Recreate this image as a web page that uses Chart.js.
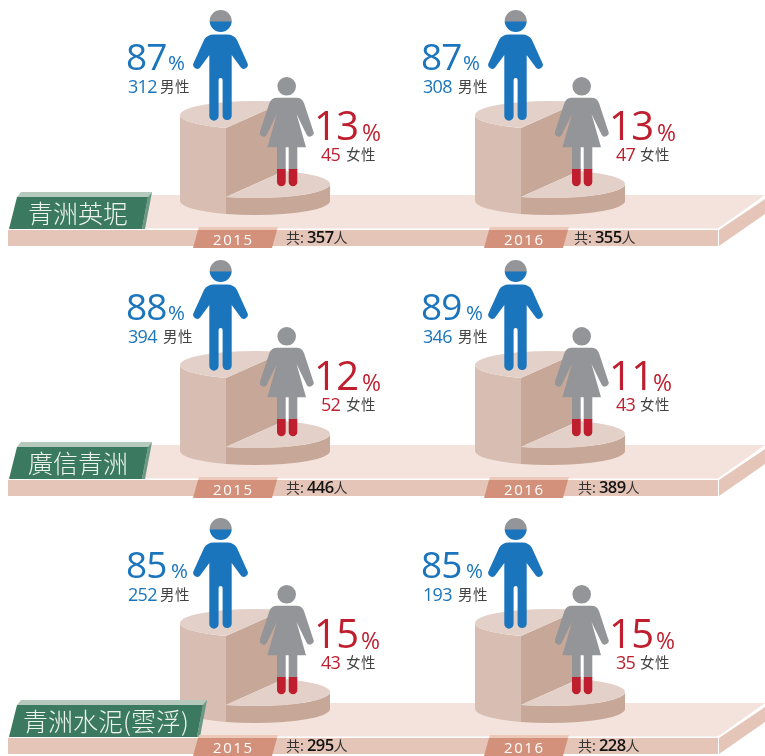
<!DOCTYPE html>
<html lang="zh-Hant">
<head>
<meta charset="utf-8">
<title>青洲 男女員工</title>
<script src="https://cdn.jsdelivr.net/npm/chart.js@4"></script>
<style>
    html,body{margin:0;padding:0;background:#fff}
    #page{position:relative;width:765px;height:756px;overflow:hidden;font-family:"Open Sans","Noto Sans CJK TC",sans-serif}
    #page canvas,#page svg{position:absolute;left:0;top:0}
    .t{position:absolute;white-space:nowrap;line-height:1}
    .big{font-size:37px;letter-spacing:-1px}
    .bigf{font-size:40px;letter-spacing:-.5px}
    .pct{font-size:20.5px}
    .pctf{font-size:23px}
    .num{font-size:18px;letter-spacing:-.7px}
    .word{font-size:14.5px;color:#444;font-family:"Noto Sans CJK TC",sans-serif;letter-spacing:.5px}
    .blue{color:#1b75bc}
    .red{color:#be1e2d}
    .year{font-size:15px;color:#fff;letter-spacing:1.6px}
    .total{font-size:14px;color:#333;font-family:"Noto Sans CJK TC",sans-serif}
    .total b{font-family:"Open Sans",sans-serif;font-size:16.5px;font-weight:600;color:#111;letter-spacing:-.6px}
    .name{font-size:25px;color:#eef4ef;font-family:"Noto Sans CJK TC",sans-serif;font-weight:300}
</style>
</head>
<body>
<div id="page"></div>
<script>
// data, order is left then right, row by row
const companies = ['青洲英坭', '廣信青洲', '青洲水泥(雲浮)']
const years = ['2015', '2016']
const malePct = [87, 87, 88, 89, 85, 85]
const femalePct = [13, 13, 12, 11, 15, 15]
const maleCount = [312, 308, 394, 346, 252, 193]
const femaleCount = [45, 47, 52, 43, 43, 35]
const totals = [357, 355, 446, 389, 295, 228]

// what the picture actually draws: same cut and same icon fill in every panel
const pieDrawn = [50, 50]
const manDrawn = [89.4, 10.6]
const womanDrawn = [16, 84]

// layout
const rowTop = [0, 250, 508]
const colLeft = [0, 295]
const malePctX = [168, 463, 168, 466, 171, 466]
const femalePctX = [362, 657, 362, 653, 361, 656]
const maleWordX = [160, 458, 163, 458, 160, 458]
const totalX = [286, 574, 286, 578, 286, 578]

const page = document.getElementById('page')

const manPath = new Path2D('M16.7 11a11 11 0 1 0 22 0a11 11 0 1 0 -22 0Z M21 24.5H34Q41 24.5 44 30L54.4 53A4 4 0 0 1 47.5 57L38.7 45V106A4.6 4.6 0 0 1 29.6 106V70A2 2 0 0 0 25.6 70V106A4.6 4.6 0 0 1 16.3 106V45L7.5 57A4 4 0 0 1 .6 53L11 30Q14 24.5 21 24.5Z')
const womanPath = new Path2D('M17.4 9.3a9.3 9.3 0 1 0 18.6 0a9.3 9.3 0 1 0 -18.6 0Z M17 20.7H36.4Q42 20.7 44 26L53.2 54A3.7 3.7 0 0 1 46.5 57.5L36.5 37L46 70.3H37.3V105A4.3 4.3 0 0 1 28.7 105V70.3H25.7V105A4.3 4.3 0 0 1 17 105V70.3H7.4L16.9 37L6.9 57.5A3.7 3.7 0 0 1 .2 54L9.4 26Q11.4 20.7 17 20.7Z')

function addCanvas(x, y, w, h) {
    const c = document.createElement('canvas')
    c.width = w
    c.height = h
    c.style.left = x + 'px'
    c.style.top = y + 'px'
    c.style.width = w + 'px'
    c.style.height = h + 'px'
    page.appendChild(c)
    return c
}

function text(x, y, str, cls, boldPart) {
    const d = document.createElement('div')
    d.className = 't ' + cls
    d.style.left = x + 'px'
    d.style.top = y + 'px'
    if (boldPart) {
        d.append(str[0])
        const b = document.createElement('b')
        b.textContent = boldPart
        d.append(b, str[1])
    } else {
        d.textContent = str
    }
    page.appendChild(d)
}

function addSvg(shapes) {
    const s = document.createElementNS('http://www.w3.org/2000/svg', 'svg')
    s.setAttribute('width', 765)
    s.setAttribute('height', 756)
    s.innerHTML = shapes
    page.appendChild(s)
}

function poly(points, fill, dy) {
    const p = points.map(a => a[0] + ',' + (a[1] + dy)).join(' ')
    return `<polygon points="${p}" fill="${fill}"/>`
}

// ---------------- stepped pie ----------------
const RY = 14
const pieTopBig = 115, pieTopSmall = 184, pieBase = 201
const canvasTop = 84
const topColor = '#e3d1c9', wallLight = '#d8beb2', wallDark = '#c7a898'

const steppedPie = {
    id: 'steppedPie',
    beforeDatasetDraw(chart) {
        const ctx = chart.ctx
        const [small, big] = chart.getDatasetMeta(0).data
        const cx = small.x, r = small.outerRadius
        const yBig = pieTopBig - canvasTop, ySmall = pieTopSmall - canvasTop, yBase = pieBase - canvasTop

        // only the front half of the rim can be seen
        const wall = (el, y0, color) => {
            const from = Math.max(el.startAngle, 0), to = Math.min(el.endAngle, Math.PI)
            ctx.beginPath()
            ctx.ellipse(cx, y0, r, RY, 0, from, to)
            ctx.ellipse(cx, yBase, r, RY, 0, to, from, true)
            ctx.closePath()
            ctx.fillStyle = color
            ctx.fill()
        }
        const top = (el, y0) => {
            ctx.save()
            ctx.translate(cx, y0)
            ctx.scale(1, RY / r)
            ctx.translate(-el.x, -el.y)
            el.draw(ctx)
            ctx.restore()
        }

        wall(big, yBig, wallLight)
        // the cut face between the two steps
        const a = big.startAngle, b = big.endAngle
        ctx.beginPath()
        ctx.moveTo(cx + r * Math.cos(a), yBig + RY * Math.sin(a))
        ctx.lineTo(cx + r * Math.cos(b), yBig + RY * Math.sin(b))
        ctx.lineTo(cx + r * Math.cos(b), ySmall + RY * Math.sin(b))
        ctx.lineTo(cx + r * Math.cos(a), ySmall + RY * Math.sin(a))
        ctx.closePath()
        ctx.fillStyle = wallDark
        ctx.fill()
        wall(small, ySmall, wallDark)
        top(small, ySmall)
        top(big, yBig)
        return false
    }
}

function drawPie(x, y) {
    new Chart(addCanvas(x, y, 150, 150), {
        type: 'pie',
        data: {
            labels: ['女性', '男性'],
            datasets: [{ data: pieDrawn, backgroundColor: [topColor, topColor], borderWidth: 0 }]
        },
        options: {
            responsive: false,
            animation: false,
            rotation: 22.8,
            plugins: { legend: { display: false }, tooltip: { enabled: false } }
        },
        plugins: [steppedPie]
    })
}

// ---------------- people, a stacked bar clipped to the silhouette ----------------
function drawPerson(x, y, w, h, shape, values, colors) {
    const clipShape = {
        id: 'clipShape',
        beforeDatasetsDraw(chart) {
            chart.ctx.save()
            chart.ctx.clip(shape)
        },
        afterDatasetsDraw(chart) {
            chart.ctx.restore()
        }
    }
    new Chart(addCanvas(x, y, w, h), {
        type: 'bar',
        data: {
            labels: [''],
            datasets: values.map((v, i) => ({
                data: [v],
                backgroundColor: colors[i],
                barPercentage: 1,
                categoryPercentage: 1
            }))
        },
        options: {
            responsive: false,
            animation: false,
            scales: {
                x: { display: false, stacked: true },
                y: { display: false, stacked: true, min: 0, max: 100 }
            },
            plugins: { legend: { display: false }, tooltip: { enabled: false } }
        },
        plugins: [clipShape]
    })
}

// ---------------- build ----------------
let back = ''
rowTop.forEach(dy => {
    back += poly([[30, 195], [765, 195], [718, 228.5], [8, 228.5]], '#f3e3dc', dy)
    back += poly([[8, 230], [718, 230], [718, 246], [8, 246]], '#e5c5b8', dy)
    back += poly([[719, 230], [765, 199], [765, 214], [719, 246]], '#e5c5b8', dy)
})
addSvg(back)

colLeft.forEach(cx => rowTop.forEach(dy => drawPie(180 + cx, canvasTop + dy)))

let front = ''
rowTop.forEach((dy, r) => {
    // last company name is longer so its tag is wider
    const w = r == 2 ? 55 : 0
    front += poly([[21, 192], [152 + w, 192], [148 + w, 197], [17, 197]], '#b5c9bc', dy)
    front += poly([[152 + w, 192], [145 + w, 229], [142 + w, 229], [148 + w, 197]], '#6b9884', dy)
    front += poly([[17, 197], [148 + w, 197], [142 + w, 229], [9, 229]], '#3b7a60', dy)

    colLeft.forEach((cx, c) => {
        const o = c == 0 ? 0 : 291
        front += poly([[199 + o, 227], [278 + o, 227], [277 + o, 230], [198 + o, 230]], '#ecc8b9', dy)
        front += poly([[198 + o, 230], [277 + o, 230], [272 + o, 248], [193 + o, 248]], '#d3907a', dy)
    })
})
addSvg(front)

rowTop.forEach((dy, r) => {
    text(r == 2 ? 23 : 28, 200 + dy, companies[r], 'name')
    colLeft.forEach((cx, c) => {
        const i = r * 2 + c
        const o = c == 0 ? 0 : 291

        drawPerson(193 + cx, 10 + dy, 56, 111, manPath, manDrawn, ['#1b75bc', '#939598'])
        drawPerson(260 + cx, 77 + dy, 54, 110, womanPath, womanDrawn, ['#be1e2d', '#939598'])

        text(126 + cx, 37 + dy, String(malePct[i]), 'big blue')
        text(malePctX[i], 52 + dy, '%', 'pct blue')
        text(128 + cx, 77 + dy, String(maleCount[i]), 'num blue')
        text(maleWordX[i], 79 + dy, '男性', 'word')

        text(314 + cx, 105 + dy, String(femalePct[i]), 'bigf red')
        text(femalePctX[i], 121 + dy, '%', 'pctf red')
        text(321 + cx, 145 + dy, String(femaleCount[i]), 'num red')
        text(346 + (c == 0 ? 0 : 294), 147 + dy, '女性', 'word')

        text(213 + o, 232 + dy, years[c], 'year')
        text(totalX[i], 229 + dy, ['共: ', '人'], 'total', String(totals[i]))
    })
})
</script>
</body>
</html>
